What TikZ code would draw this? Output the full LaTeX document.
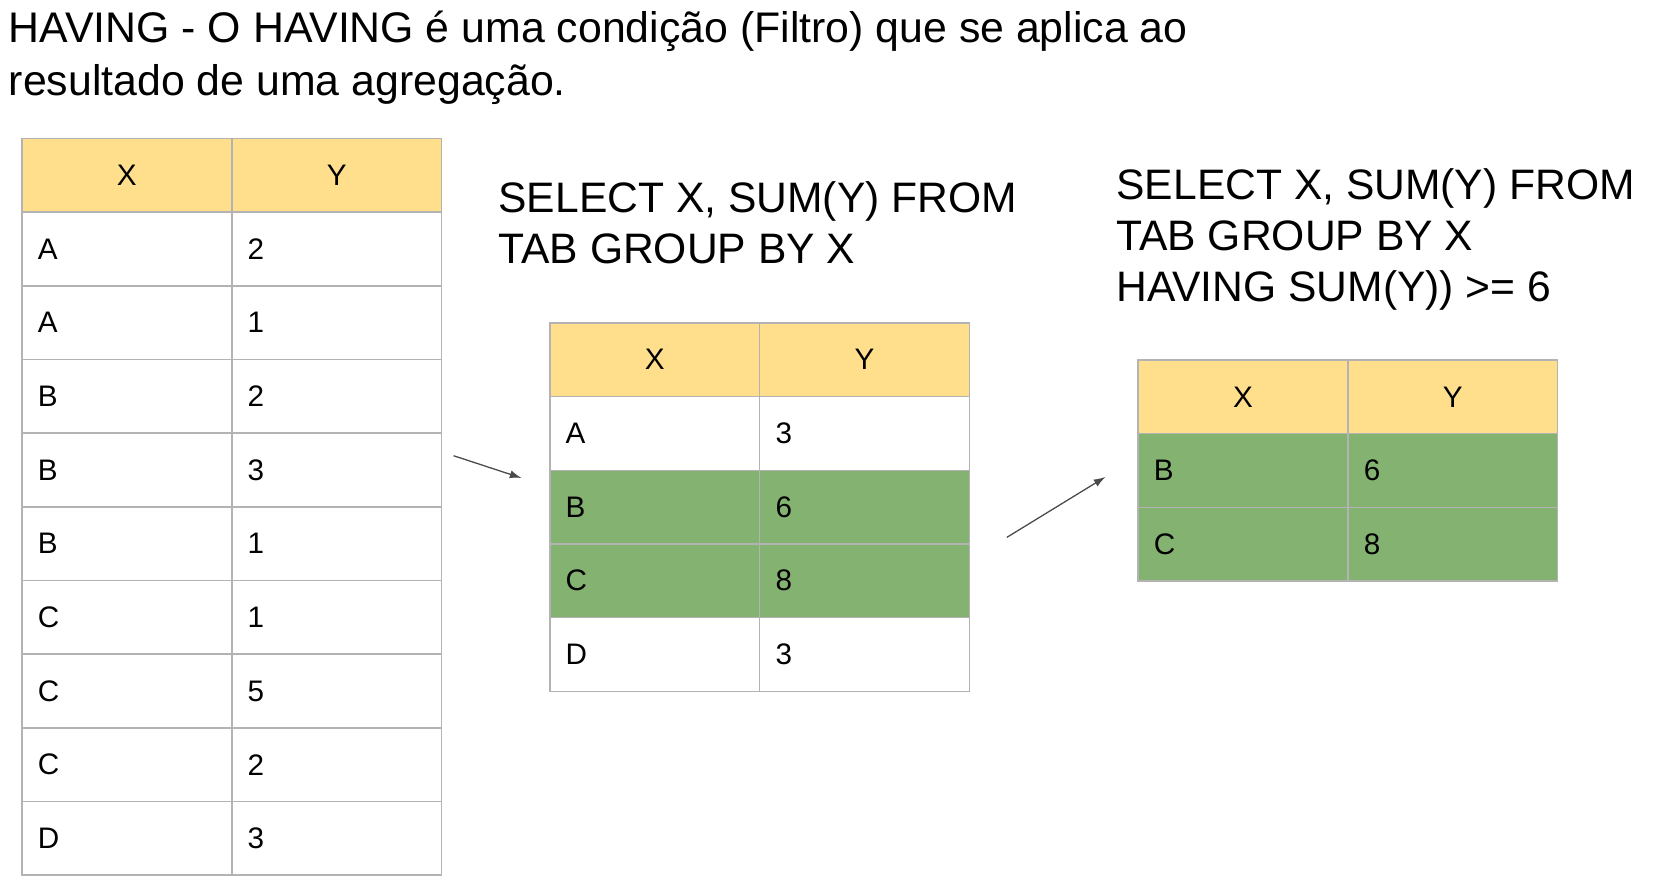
\documentclass[tikz,border=0pt]{standalone}
\usepackage{fontspec}
\setmainfont{Liberation Sans}
\usetikzlibrary{arrows.meta}
\definecolor{headyellow}{HTML}{FFDE8C}
\definecolor{keepgreen}{HTML}{84B271}
\definecolor{gridgray}{HTML}{B3B3B3}
\definecolor{arrowgray}{HTML}{4A4A4A}
\tikzset{
  cell/.style={draw=gridgray, line width=0.7pt, anchor=north west, minimum width=99pt, minimum height=34.75pt,
    inner xsep=7.5pt, inner ysep=0pt, text width=84pt, font=\fontsize{14}{16}\selectfont},
  headcell/.style={cell, fill=headyellow, align=center},
  datacell/.style={cell, fill=white, align=left},
  hitcell/.style={cell, fill=keepgreen, align=left},
  prose/.style={anchor=north west, inner sep=0pt, align=left, font=\fontsize{20.2}{25}\selectfont},
  sqltext/.style={anchor=north west, inner sep=0pt, align=left, font=\fontsize{20.1}{24}\selectfont},
  flow/.style={-{Latex[length=5.5pt,width=3.8pt]}, draw=arrowgray, fill=arrowgray, line width=0.6pt}
}
\begin{document}
\begin{tikzpicture}[x=0.5pt,y=-0.5pt]
\useasboundingbox[fill=white] (0,0) rectangle (1570,838);
\node[prose] (intro) at (8,10) {HAVING - O HAVING é uma condição (Filtro) que se aplica ao\\resultado de uma agregação.};
% tabela original
\node[headcell] (orig-0-x) at (20,130) {X};
\node[headcell] (orig-0-y) at (218,130) {Y};
\foreach \k/\v [count=\i] in {A/2,A/1,B/2,B/3,B/1,C/1,C/5,C/2,D/3}{
  \node[datacell] (orig-\i-x) at (20,{130+69.5*\i}) {\k};
  \node[datacell] (orig-\i-y) at (218,{130+69.5*\i}) {\v};
}
% agrupada
\node[sqltext] (sqlgroup) at (470,171) {SELECT X, SUM(Y) FROM\\TAB GROUP BY X};
\node[headcell] (grp-0-x) at (518,304) {X};
\node[headcell] (grp-0-y) at (716,304) {Y};
\foreach \k/\v/\s [count=\i] in {A/3/datacell,B/6/hitcell,C/8/hitcell,D/3/datacell}{
  \node[\s] (grp-\i-x) at (518,{304+69.5*\i}) {\k};
  \node[\s] (grp-\i-y) at (716,{304+69.5*\i}) {\v};
}
% filtrada
\node[sqltext] (sqlhaving) at (1053,159) {SELECT X, SUM(Y) FROM\\TAB GROUP BY X\\HAVING SUM(Y)) >= 6};
\node[headcell] (hav-0-x) at (1073,339) {X};
\node[headcell] (hav-0-y) at (1271,339) {Y};
\foreach \k/\v [count=\i] in {B/6,C/8}{
  \node[hitcell] (hav-\i-x) at (1073,{339+69.5*\i}) {\k};
  \node[hitcell] (hav-\i-y) at (1271,{339+69.5*\i}) {\v};
}
% setas
\coordinate (s1a) at (428,430);
\coordinate (s1b) at (492,451);
\coordinate (s2a) at (950,507);
\coordinate (s2b) at (1043,450);
\draw[flow] (s1a) -- (s1b);
\draw[flow] (s2a) -- (s2b);
\end{tikzpicture}
\end{document}
